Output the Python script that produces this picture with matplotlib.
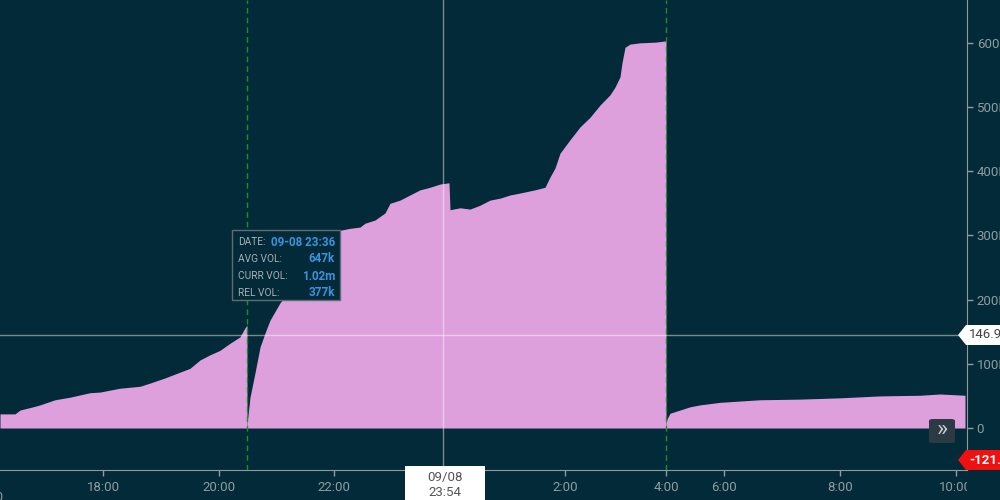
import matplotlib
matplotlib.use("Agg")
import matplotlib.pyplot as plt
from matplotlib.patches import Polygon, Rectangle, FancyBboxPatch
from matplotlib.ticker import FuncFormatter
from matplotlib.transforms import Bbox, TransformedBbox

BG = "#032a38"; PINK = "#dda0dd"; AX = "#8e9ca2"; GREEN = "#1f8f2a"
plt.rcParams["font.family"] = ["Roboto", "DejaVu Sans"]

# cumulative volume, three sessions (x = bar index, y = shares)
s1_x = [0, 15, 20, 33, 40, 55, 70, 90, 100, 110, 120, 140, 150, 165, 180, 190,
        200, 210, 220, 230, 240, 245, 247]
s1_y = [22, 22, 28, 33, 36, 44, 48, 55, 56, 59, 62, 65, 70, 78, 87, 93,
        106, 114, 121, 132, 142, 156, 160]
s2_x = [247, 248, 250, 255, 260, 265, 270, 280, 288, 300, 320, 340, 350, 360, 365,
        375, 385, 390, 400, 410, 420, 430, 440, 449, 450, 460, 470, 480, 490,
        500, 510, 520, 535, 545, 550, 555, 560, 570, 580, 590, 600, 610, 615,
        620, 622, 625, 630, 640, 655, 666]
s2_y = [8, 20, 48, 86, 126, 148, 168, 195, 210, 245, 280, 308, 311, 313, 319,
        324, 335, 350, 355, 363, 371, 375, 380, 382, 340, 343, 341, 347, 355,
        358, 363, 366, 371, 375, 391, 405, 428, 449, 469, 484, 503, 519, 531,
        547, 569, 593, 598, 600, 601, 603]
s3_x = [666, 667, 670, 680, 690, 700, 720, 740, 760, 800, 840, 880, 920, 940, 965]
s3_y = [8, 14, 23, 28, 33, 36, 40, 42, 44, 45, 47, 50, 51, 53, 51]

tick_pos = [103, 219, 334, 565, 666, 724, 840, 956]
tick_lab = ["18:00", "20:00", "22:00", "2:00", "4:00", "6:00", "8:00", "10:00"]
y_ticks = [0, 100000, 200000, 300000, 400000, 500000, 600000]
session_breaks = [247, 666]
cross_x, cross_y = 443, 145000

fig = plt.figure(figsize=(10, 5), dpi=100)
fig.patch.set_facecolor(BG)
ax = fig.add_axes([0, 0.06, 0.967, 0.94])
ax.set_facecolor(BG)

for xs, ys in [(s1_x, s1_y), (s2_x, s2_y), (s3_x, s3_y)]:
    ax.fill_between(xs, [v * 1000 for v in ys], 0, color=PINK, lw=0, zorder=2)

for b in session_breaks:
    ax.axvline(b, color=GREEN, lw=1, ls=(0, (4, 3)), zorder=3)
ax.axvline(cross_x, color="white", alpha=0.45, lw=1, zorder=4)
ax.axhline(cross_y, color="white", alpha=0.45, lw=1, zorder=4)

ax.set_xlim(0, 967)
ax.set_ylim(-65400, 666700)
for s in ["top", "left"]:
    ax.spines[s].set_visible(False)
for s in ["right", "bottom"]:
    ax.spines[s].set_color(AX)
ax.yaxis.tick_right()
ax.set_yticks(y_ticks)
ax.yaxis.set_major_formatter(FuncFormatter(lambda v, _: "0" if v == 0 else f"{v/1000:.0f}K"))
ax.set_xticks(tick_pos)
ax.set_xticklabels(tick_lab)
ax.tick_params(colors=AX, labelsize=9.5, length=4, width=1, pad=4)
ax.tick_params(axis="y", pad=3)
clip = TransformedBbox(Bbox([[0, 0], [0.967, 1]]), fig.transFigure)
for t in ax.get_xticklabels():
    t.set_clip_box(clip); t.set_clip_on(True)
ax.text(-13, -0.058, "16:00", transform=ax.get_xaxis_transform(), color=AX,
        fontsize=9.5, ha="center", va="center", clip_on=False)

P = lambda x, y: (x / 1000, 1 - y / 500)

# tooltip
tip = Rectangle(P(232, 300), 108 / 1000, 70 / 500, transform=fig.transFigure,
                facecolor=BG, edgecolor="#5d6d73", lw=1, zorder=10)
fig.patches.append(tip)
rows = [("DATE:", "09-08 23:36"), ("AVG VOL:", "647k"), ("CURR VOL:", "1.02m"), ("REL VOL:", "377k")]
for i, (k, v) in enumerate(rows):
    y = 242 + i * 17
    fig.text(*P(238, y), k, color="#a6b0b5", fontsize=7.3, va="center", zorder=11)
    fig.text(*P(335, y), v, color="#3a94dd", fontsize=8.4, fontweight="bold",
             ha="right", va="center", zorder=11)

# value tags on the right
def tag(yc, face, txt, tc, weight="normal"):
    pts = [P(958, yc), P(966, yc - 10), P(1005, yc - 10), P(1005, yc + 10), P(966, yc + 10)]
    fig.patches.append(Polygon(pts, closed=True, transform=fig.transFigure,
                               facecolor=face, edgecolor="none", zorder=10))
    fig.text(*P(969, yc), txt, color=tc, fontsize=9.5, va="center", fontweight=weight, zorder=11)

tag(335, "white", "146.9", "#444444")
tag(460, "#f01010", "-121.8", "white", "bold")

# crosshair date box
fig.patches.append(Rectangle(P(405, 500), 80 / 1000, 34 / 500, transform=fig.transFigure,
                             facecolor="white", edgecolor="none", zorder=10))
fig.text(*P(445, 477), "09/08", color="#555555", fontsize=9.5, ha="center", va="center", zorder=11)
fig.text(*P(445, 492), "23:54", color="#555555", fontsize=9.5, ha="center", va="center", zorder=11)

# scroll button
fig.patches.append(FancyBboxPatch(P(929, 443), 26 / 1000, 24 / 500, transform=fig.transFigure,
                                  boxstyle="round,pad=0,rounding_size=0.004",
                                  facecolor="#2b3a43", edgecolor="none", zorder=10))
fig.text(*P(942, 430), "»", color="#c5ccd0", fontsize=17, ha="center", va="center", zorder=11)

fig.savefig("out.png", dpi=100, facecolor=BG)
